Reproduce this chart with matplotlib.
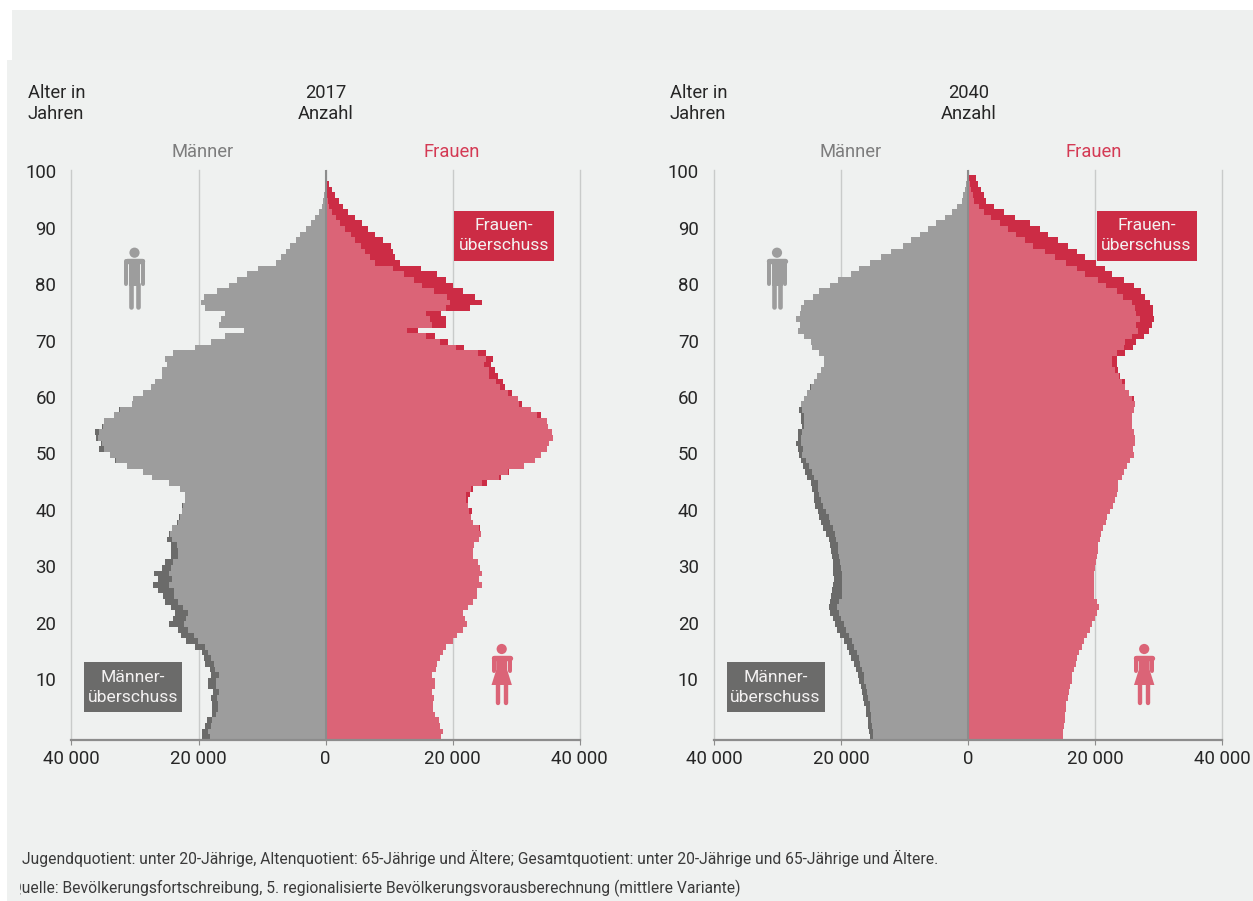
import numpy as np
import matplotlib
matplotlib.use("Agg")
import matplotlib.pyplot as plt
from matplotlib.patches import Rectangle, Circle, Polygon

# population per age in thousands, age 0 to 100
men_2017 = [19.5,19.5,19.0,18.6,17.8,17.9,17.9,18.1,17.7,18.5,
            18.5,18.0,18.2,18.9,19.1,19.4,20.5,21.9,22.8,23.2,
            24.6,24.0,23.7,24.3,25.2,25.6,26.4,27.1,26.3,27.0,
            25.8,25.3,24.3,24.3,24.3,24.9,24.6,24.1,23.4,23.0,
            22.6,22.6,22.1,22.1,22.9,24.7,27.3,28.8,31.2,33.2,
            33.9,35.6,35.4,36.2,36.3,35.2,34.9,33.3,32.5,30.5,
            30.3,28.8,27.5,26.9,25.8,25.7,25.0,25.2,24.0,20.5,
            18.0,15.9,12.9,16.8,16.5,15.9,19.0,19.6,19.1,17.1,
            15.2,14.0,12.4,10.6,7.8,7.0,6.2,5.6,4.7,4.0,
            3.0,2.3,1.7,1.0,0.6,0.4,0.25,0.15,0.1,0.05,0.02]
women_2017 = [18.2,18.5,18.1,17.9,17.2,16.9,16.9,17.1,16.8,17.3,
              17.2,16.8,17.4,17.6,18.0,18.5,18.9,20.1,20.7,21.7,
              22.3,22.0,21.7,22.4,23.2,23.8,23.9,24.6,24.2,24.6,
              24.3,24.0,23.2,23.3,23.4,24.2,24.5,24.4,23.2,22.9,
              23.0,22.5,22.4,22.8,23.2,25.4,27.6,28.9,31.3,33.0,
              33.9,34.9,35.2,35.8,35.7,35.1,34.9,34.0,32.4,30.9,
              30.3,29.3,28.3,27.9,27.2,26.7,26.0,26.3,25.3,21.8,
              19.3,17.2,14.6,19.0,18.9,18.2,22.8,24.7,23.6,21.7,
              20.0,18.9,17.5,15.1,11.8,11.0,10.6,10.3,9.0,7.8,
              6.7,5.7,4.7,3.5,2.8,2.2,1.5,1.1,0.5,0.2,0.05]
men_2040 = [15.5,15.6,15.7,15.8,16.0,16.1,16.3,16.5,16.7,16.9,
            17.2,17.4,17.7,18.0,18.4,18.7,19.1,19.6,20.1,20.6,
            21.0,21.3,21.7,21.9,21.7,21.6,21.4,21.2,21.1,21.2,
            21.3,21.3,21.4,21.5,21.7,21.9,22.4,22.8,23.2,23.5,
            23.6,24.1,24.2,24.3,24.5,24.7,25.3,25.6,26.0,26.3,
            26.6,26.7,27.1,26.8,26.7,26.2,26.3,26.3,26.6,26.3,
            25.9,25.4,24.9,24.2,23.8,23.2,22.7,22.7,23.4,24.5,
            24.8,25.8,26.7,26.5,27.1,26.4,26.3,25.8,24.4,23.5,
            21.7,20.4,18.4,17.2,15.4,13.7,12.1,10.3,8.9,7.5,
            6.3,5.1,3.6,2.5,1.7,0.95,0.75,0.5,0.35,0.2,0.05]
women_2040 = [15.0,15.0,15.1,15.2,15.3,15.4,15.5,15.7,15.9,16.1,
              16.3,16.4,16.7,17.0,17.2,17.5,17.9,18.3,18.8,19.2,
              19.6,20.0,20.3,20.6,20.3,19.9,19.8,19.8,19.8,19.9,
              20.0,20.1,20.3,20.4,20.5,20.8,21.0,21.3,21.7,21.9,
              22.4,22.8,23.1,23.5,23.6,23.7,24.3,24.6,25.0,25.5,
              26.1,26.0,26.3,26.3,26.2,25.8,25.8,25.9,26.2,26.3,
              26.2,25.3,24.8,24.7,24.0,23.7,23.5,23.4,24.8,26.0,
              26.5,27.7,28.5,29.0,29.3,29.1,29.2,28.7,27.9,27.3,
              26.1,24.5,22.7,21.5,20.1,18.5,17.2,15.7,14.2,12.6,
              11.4,9.7,7.4,5.6,4.1,2.8,2.5,2.05,1.6,1.25,0.1]

ages = np.arange(101)
age_ticks = [10, 20, 30, 40, 50, 60, 70, 80, 90, 100]
count_ticks = [-40, -20, 0, 20, 40]
count_labels = ["40 000", "20 000", "0", "20 000", "40 000"]
note_1 = "Jugendquotient: unter 20-Jährige, Altenquotient: 65-Jährige und Ältere; Gesamtquotient: unter 20-Jährige und 65-Jährige und Ältere."
note_2 = "Quelle: Bevölkerungsfortschreibung, 5. regionalisierte Bevölkerungsvorausberechnung (mittlere Variante)"

W, H = 1253, 901
BG = "#eff1f0"
GREY = "#9d9d9d"
DARK = "#6b6b6a"
PINK = "#db6477"
RED = "#cc2c45"
GRID = "#c9cbca"
AXIS = "#8c8c8c"
TEXT = "#262626"

plt.rcParams['font.family'] = ['Roboto', 'DejaVu Sans']
fig = plt.figure(figsize=(W / 100, H / 100), dpi=100, facecolor="white")

# overlay in pixel coordinates for page background, labels and icons
bg = fig.add_axes([0, 0, 1, 1], zorder=0)
bg.set_xlim(0, W)
bg.set_ylim(H, 0)
bg.axis("off")
bg.add_patch(Rectangle((12, 10), W - 12, 50, fc="#eef0ef", ec="none"))
bg.add_patch(Rectangle((7, 60), W - 7, H - 60, fc=BG, ec="none"))

ov = fig.add_axes([0, 0, 1, 1], zorder=5)
ov.set_xlim(0, W)
ov.set_ylim(H, 0)
ov.axis("off")
ov.patch.set_alpha(0)


def limb(x0, y0, x1, y1, width, color):
    ov.plot([x0, x1], [y0, y1], color=color, lw=width * 0.72, solid_capstyle="round")


def man(cx, color):
    ov.add_patch(Circle((cx, 252.7), 5.1, fc=color, ec="none"))
    limb(cx - 7.8, 261, cx + 7.8, 261, 5.4, color)
    limb(cx - 8.2, 261, cx - 8.2, 283.5, 4, color)
    limb(cx + 8.2, 261, cx + 8.2, 283.5, 4, color)
    ov.add_patch(Rectangle((cx - 5.5, 259), 11, 27, fc=color, ec="none"))
    limb(cx - 3.2, 284, cx - 3.2, 307, 4.6, color)
    limb(cx + 3.2, 284, cx + 3.2, 307, 4.6, color)


def woman(cx, color):
    ov.add_patch(Circle((cx, 649), 5.1, fc=color, ec="none"))
    limb(cx - 7.8, 658, cx + 7.8, 658, 5.4, color)
    limb(cx - 8.2, 658, cx - 8.2, 671, 4, color)
    limb(cx + 8.2, 658, cx + 8.2, 671, 4, color)
    ov.add_patch(Polygon([(cx - 5.5, 656), (cx + 5.5, 656), (cx + 5.5, 670),
                          (cx + 10.2, 685), (cx - 10.2, 685), (cx - 5.5, 670)],
                         fc=color, ec="none"))
    limb(cx - 3.8, 685, cx - 3.8, 703, 4.4, color)
    limb(cx + 3.8, 685, cx + 3.8, 703, 4.4, color)


def box(x0, x1, y0, y1, color, line1, line2):
    ov.add_patch(Rectangle((x0, y0), x1 - x0, y1 - y0, fc=color, ec="none"))
    ov.text((x0 + x1) / 2, y0 + 15, line1, color="#f3f1f1", fontsize=12.6, ha="center", va="center")
    ov.text((x0 + x1) / 2, y0 + 35, line2, color="#f3f1f1", fontsize=12.6, ha="center", va="center")


def panel(men, women, left, year):
    men = np.array(men)
    women = np.array(women)
    common = np.minimum(men, women)
    width = 508
    top, bottom = 169.7, 740
    ax = fig.add_axes([left / W, 1 - bottom / H, width / W, (bottom - top) / H], zorder=2)
    ax.patch.set_alpha(0)
    ax.set_xlim(-40, 40)
    ax.set_ylim(-0.5, 100.5)
    ax.set_axisbelow(True)
    ax.grid(axis="x", color=GRID, lw=1)
    for gl in ax.get_xgridlines():
        gl.set_clip_on(False)
    ax.barh(ages, -men, height=1.02, color=DARK, lw=0, zorder=2)
    ax.barh(ages, -common, height=1.02, color=GREY, lw=0, zorder=3)
    ax.barh(ages, women, height=1.02, color=RED, lw=0, zorder=2)
    ax.barh(ages, common, height=1.02, color=PINK, lw=0, zorder=3)
    ax.axvline(0, color=AXIS, lw=1.5, zorder=4)
    for s in ["top", "left", "right"]:
        ax.spines[s].set_visible(False)
    ax.spines["bottom"].set_color(AXIS)
    ax.spines["bottom"].set_linewidth(1.6)
    ax.spines["bottom"].set_zorder(5)
    ax.set_xticks(count_ticks, count_labels)
    # no tick marks here, small nudge so the labels sit a pixel higher
    ax.set_yticks(np.array(age_ticks) + 0.25, [str(a) for a in age_ticks])
    ax.tick_params(axis="x", length=3.5, width=0.8, color=AXIS, labelsize=13.4, labelcolor=TEXT, pad=4)
    ax.tick_params(axis="y", length=0, labelsize=13.4, labelcolor=TEXT, pad=11)

    dx = left - 71.5
    ov.text(27.5 + dx, 93, "Alter in", color=TEXT, fontsize=13.2, va="center")
    ov.text(27.5 + dx, 114, "Jahren", color=TEXT, fontsize=13.2, va="center")
    ov.text(325.7 + dx, 93, year, color=TEXT, fontsize=13.2, ha="center", va="center")
    ov.text(325.7 + dx, 114, "Anzahl", color=TEXT, fontsize=13.2, ha="center", va="center")
    ov.text(202.5 + dx + (6 if year == "2040" else 0), 152, "Männer", color="#7d7d7d", fontsize=13.2, ha="center", va="center")
    ov.text(451.5 + dx, 152, "Frauen", color="#d43a54", fontsize=13.2, ha="center", va="center")
    box(454 + dx, 554 + dx, 211, 261, RED, "Frauen-", "überschuss")
    box(84 + dx, 182 + dx, 662, 712, DARK, "Männer-", "überschuss")
    man(134.5 + dx, GREY)
    woman(501.7 + dx, PINK)


panel(men_2017, women_2017, 71.5, "2017")
panel(men_2040, women_2040, 714, "2040")

ov.text(22, 858, note_1, color="#3a3a3a", fontsize=11.28, va="center")
t = ov.text(11, 888, note_2, color="#3a3a3a", fontsize=11.28, va="center")
t.set_clip_on(True)
t.set_clip_path(Rectangle((20, 870), 900, 30, transform=ov.transData))

fig.savefig("out.png", dpi=100)
